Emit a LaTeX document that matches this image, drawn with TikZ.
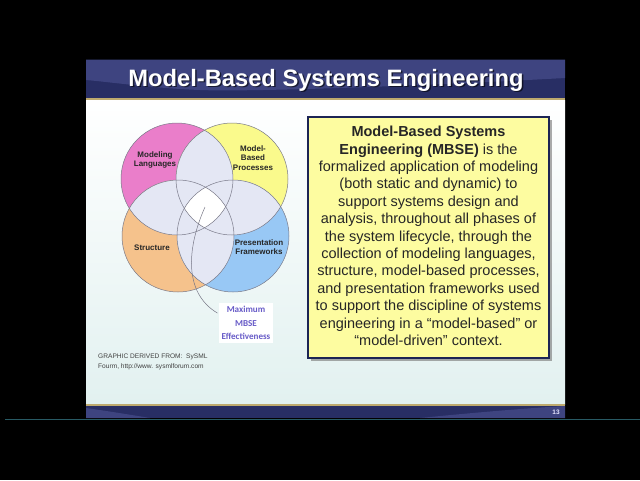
\documentclass[tikz,border=0pt]{standalone}
\usepackage{fontspec}
\setmainfont{Liberation Sans}
\newfontfamily\calibri{Carlito}
\usetikzlibrary{calc}
\definecolor{navy}{RGB}{40,46,100}
\definecolor{navylight}{RGB}{62,68,128}
\definecolor{goldline}{RGB}{190,170,110}
\definecolor{pinkc}{RGB}{234,126,202}
\definecolor{yellowc}{RGB}{250,250,140}
\definecolor{orangec}{RGB}{245,194,140}
\definecolor{bluec}{RGB}{152,200,245}
\definecolor{lav}{RGB}{228,231,244}
\definecolor{outl}{RGB}{120,120,135}
\definecolor{boxyel}{RGB}{253,252,160}
\definecolor{boxbord}{RGB}{28,36,84}
\definecolor{maxc}{RGB}{104,92,200}
\definecolor{bodybot}{RGB}{226,241,240}
\definecolor{teal}{RGB}{40,90,100}
\tikzset{
  vlabel/.style={font=\fontsize{8}{9.2}\selectfont\bfseries, align=center, text=black!85},
  ring/.style={draw=outl, line width=0.5pt},
}
\begin{document}
\begin{tikzpicture}[x=1pt,y=-1pt]
\useasboundingbox (0,0) rectangle (640,480);
\fill[black] (0,0) rectangle (640,480);
% full width thin line
\draw[teal, line width=1pt] (5,419) -- (640,419);
% slide body
\shade[top color=white, bottom color=bodybot] (86,100) rectangle (565,404);
% title band
\fill[navy] (86,59.5) rectangle (565,97.5);
\fill[navylight] (86,59.5) -- (565,59.5) -- (565,78) .. controls (420,86) and (250,92) .. (200,90) .. controls (150,88) and (110,82) .. (86,80) -- cycle;
\fill[goldline] (86,97.5) rectangle (565,100);
% bottom band
\fill[goldline] (86,403.5) rectangle (565,405.5);
\fill[navy] (86,405.5) rectangle (565,418);
\fill[navylight] (86,405.5) -- (86,418) -- (150,418) .. controls (120,413) and (100,410) .. (86,408) -- cycle;
\fill[navylight] (565,405.5) -- (565,418) -- (420,418) .. controls (480,412) and (530,408) .. (565,406) -- cycle;
\node[font=\fontsize{6.5}{6.5}\selectfont\bfseries, text=white!90!blue] (pg) at (556,412) {13};
% title
\node[font=\fontsize{23.7}{25}\selectfont\bfseries, text=black, opacity=0.6] (tsh) at (327.5,81.5) {Model-Based Systems Engineering};
\node[font=\fontsize{23.7}{25}\selectfont\bfseries, text=white] (title) at (326,80) {Model-Based Systems Engineering};
% venn
\coordinate (cP) at (177,179);
\coordinate (cY) at (232,179);
\coordinate (cO) at (178,236);
\coordinate (cB) at (233,236);
\def\rr{56pt}
\fill[pinkc] (cP) circle[radius=\rr];
\fill[yellowc] (cY) circle[radius=\rr];
\fill[orangec] (cO) circle[radius=\rr];
\fill[bluec] (cB) circle[radius=\rr];
\foreach \a/\b in {cP/cY,cP/cO,cP/cB,cY/cO,cY/cB,cO/cB}{
  \begin{scope}
    \clip (\a) circle[radius=\rr];
    \fill[lav] (\b) circle[radius=\rr];
  \end{scope}
}
\begin{scope}
  \clip (cP) circle[radius=\rr];
  \clip (cY) circle[radius=\rr];
  \clip (cO) circle[radius=\rr];
  \clip (cB) circle[radius=\rr];
  \fill[white] (100,100) rectangle (300,300);
\end{scope}
\foreach \c in {cP,cY,cO,cB}{ \draw[ring] (\c) circle[radius=\rr]; }
\node[vlabel] (ml) at (155,160) {Modeling\\Languages};
\node[vlabel] (mbp) at (253,158) {Model-\\Based\\Processes};
\node[vlabel] (st) at (152,248) {Structure};
\node[vlabel] (pf) at (259,247) {Presentation\\Frameworks};
% max label
\node[fill=white, inner sep=3pt, align=center, text=maxc, font=\calibri\fontsize{9.1}{13.5}\selectfont\bfseries] (maxl) at (246,323) {Maximum\\MBSE\\Effectiveness};
\coordinate (ctr) at (205,207);
\draw[outl, line width=0.5pt] (ctr) .. controls (188,245) and (182,292) .. ($(maxl.north west)+(-1,10)$);
% footnote
\node[anchor=north west, align=left, inner sep=0pt, text=black!75, font=\fontsize{6.6}{10}\selectfont] (src) at (98,354) {GRAPHIC DERIVED FROM:\ \ SySML\\Fourm, http://www. sysmlforum.com};
% text box
\fill[black!55, opacity=0.6] (311,120) rectangle (552,361);
\draw[boxbord, line width=2pt, fill=boxyel] (308,117) rectangle (549,358);
\node[align=center, font=\fontsize{14.5}{17.4}\selectfont, text=black!85] (def) at (428.5,236) {%
\textbf{Model-Based Systems}\\
\textbf{Engineering (MBSE)} is the\\
formalized application of modeling\\
(both static and dynamic) to\\
support systems design and\\
analysis, throughout all phases of\\
the system lifecycle, through the\\
collection of modeling languages,\\
structure, model-based processes,\\
and presentation frameworks used\\
to support the discipline of systems\\
engineering in a ``model-based'' or\\
``model-driven'' context.};
\end{tikzpicture}
\end{document}
